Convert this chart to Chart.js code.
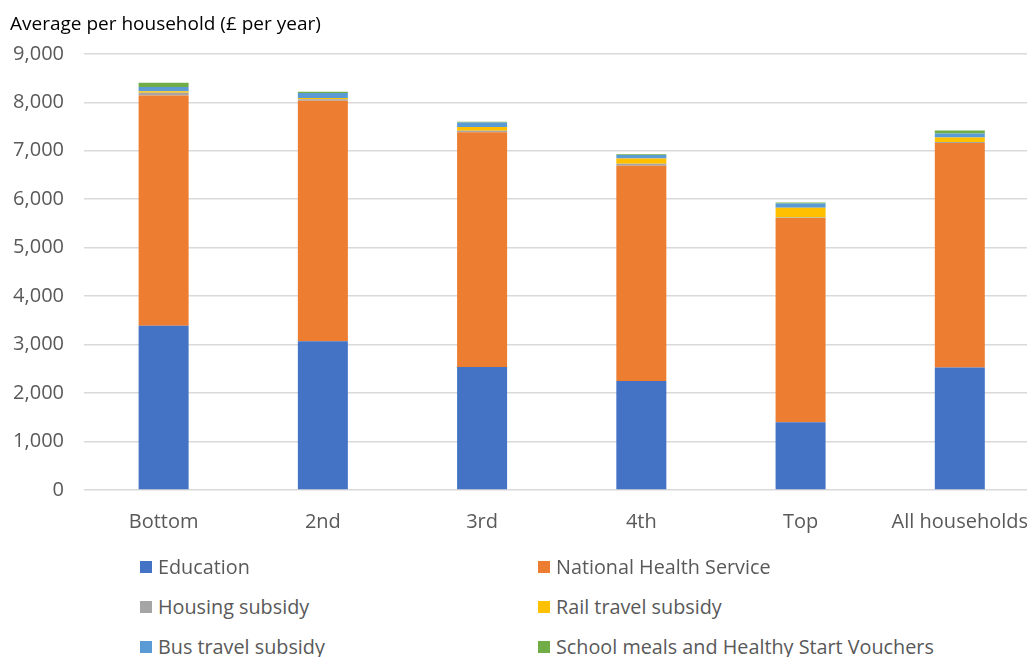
<!DOCTYPE html>
<html>
<head>
<meta charset="utf-8">
<script src="https://cdn.jsdelivr.net/npm/chart.js@4/dist/chart.umd.min.js"></script>
<style>
    html, body {
        margin: 0;
        padding: 0;
        background: #fff;
        overflow: hidden;
        width: 1027px;
        height: 657px;
        font-family: "Open Sans", sans-serif;
    }
    #chart {
        position: absolute;
        left: 0;
        top: 0;
    }
    .legend-item {
        position: absolute;
        display: flex;
        align-items: center;
        font-size: 19.8px;
        color: #595959;
        white-space: nowrap;
        line-height: 24px;
    }
    .legend-item .box {
        width: 12px;
        height: 12px;
        margin-right: 6px;
    }
</style>
</head>
<body>
<canvas id="chart" width="1048" height="581"></canvas>
<div id="legend"></div>
<script>
const categories = ["Bottom", "2nd", "3rd", "4th", "Top", "All households"];

// £ per year
const education = [3390, 3070, 2540, 2250, 1400, 2530];
const nhs = [4750, 4960, 4840, 4440, 4210, 4630];
const housing = [55, 30, 30, 40, 15, 20];
const rail = [30, 30, 80, 110, 200, 95];
const bus = [90, 100, 90, 70, 85, 80];
const schoolMeals = [90, 25, 20, 15, 20, 60];

const yTicks = [0, 1000, 2000, 3000, 4000, 5000, 6000, 7000, 8000, 9000];

const COLORS = {
    blue: "#4472C4",
    orange: "#ED7D31",
    grey: "#A5A5A5",
    yellow: "#FFC000",
    lightBlue: "#5B9BD5",
    green: "#70AD47"
};

const series = [
    { label: "Education", data: education, color: COLORS.blue },
    { label: "National Health Service", data: nhs, color: COLORS.orange },
    { label: "Housing subsidy", data: housing, color: COLORS.grey },
    { label: "Rail travel subsidy", data: rail, color: COLORS.yellow },
    { label: "Bus travel subsidy", data: bus, color: COLORS.lightBlue },
    { label: "School meals and Healthy Start Vouchers", data: schoolMeals, color: COLORS.green }
];

const chartEle = document.getElementById("chart");

const chart = new Chart(chartEle, {
    type: "bar",
    data: {
        labels: categories,
        datasets: series.map(s => ({
            label: s.label,
            data: s.data,
            backgroundColor: s.color,
            borderWidth: 0,
            barPercentage: 0.314,
            categoryPercentage: 1
        }))
    },
    options: {
        responsive: false,
        animation: false,
        layout: {
            padding: { left: 10, right: 0, top: 0, bottom: 27 }
        },
        plugins: {
            legend: {
                display: false
            },
            tooltip: {
                enabled: false
            },
            title: {
                display: true,
                text: "Average per household (£ per year)",
                align: "start",
                color: "#000",
                font: { family: "Open Sans", size: 19, weight: "normal" },
                padding: { top: 13, bottom: 18 }
            }
        },
        scales: {
            x: {
                stacked: true,
                grid: { display: false, drawTicks: false },
                border: { display: false },
                ticks: {
                    color: "#595959",
                    font: { family: "Open Sans", size: 20 },
                    padding: 20,
                    maxRotation: 0,
                    autoSkip: false
                }
            },
            y: {
                stacked: true,
                min: 0,
                max: 9000,
                afterBuildTicks: (scale) => {
                    scale.ticks = yTicks.map(v => ({ value: v }));
                },
                afterFit: (scale) => {
                    scale.width = 74;
                },
                grid: {
                    color: "#d9d9d9",
                    lineWidth: 1.5,
                    drawTicks: false
                },
                border: { display: false },
                ticks: {
                    color: "#595959",
                    font: { family: "Open Sans", size: 20 },
                    padding: 20,
                    callback: (value) => new Intl.NumberFormat("en-GB").format(value)
                }
            }
        }
    }
});

// legend in two columns, like the original
const legendEle = document.getElementById("legend");
const legendCols = [140, 538];
const legendRows = [567, 607, 647];
for (let i = 0; i < series.length; i++) {
    const item = document.createElement("div");
    item.className = "legend-item";
    item.style.left = legendCols[i % 2] + "px";
    item.style.top = (legendRows[Math.floor(i / 2)] - 12) + "px";

    const box = document.createElement("span");
    box.className = "box";
    box.style.background = series[i].color;

    const text = document.createElement("span");
    text.textContent = series[i].label;

    item.appendChild(box);
    item.appendChild(text);
    legendEle.appendChild(item);
}
</script>
</body>
</html>
